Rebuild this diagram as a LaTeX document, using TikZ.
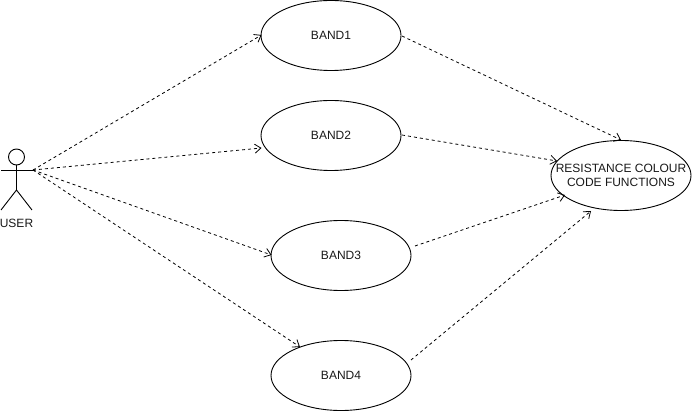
\documentclass[tikz,border=0pt]{standalone}
\usepackage{fontspec}
\setmainfont{Liberation Sans}
\usetikzlibrary{shapes.geometric,arrows.meta}
\newcommand{\lowertext}[1]{\raisebox{-1pt}{#1}}
\tikzset{
  usecase/.style={ellipse,draw=black,line width=0.9pt,minimum width=140pt,minimum height=70pt,inner sep=0pt,align=center,font=\fontsize{12}{15}\selectfont,text=black!90},
  link/.style={draw=black,line width=0.8pt,dash pattern=on 3pt off 3pt,-{Straight Barb[length=6pt,width=9pt]}},
  stick/.style={draw=black,line width=0.9pt},
}
\begin{document}
\begin{tikzpicture}[x=1pt,y=-1pt]
\useasboundingbox (0,0) rectangle (692,411);
\node[usecase] (b1) at (331,35.5) {\lowertext{BAND1}};
\node[usecase] (b2) at (331,135.5) {\lowertext{BAND2}};
\node[usecase] (b3) at (341,255.5) {\lowertext{BAND3}};
\node[usecase] (b4) at (341,375.5) {\lowertext{BAND4}};
\node[usecase,inner xsep=-20pt] (res) at (621,175.5) {\lowertext{RESISTANCE COLOUR}\\[-1pt]\lowertext{CODE FUNCTIONS}};
% actor
\node[circle,stick,minimum size=16pt,inner sep=0pt] (head) at (16.5,157) {};
\coordinate (hip) at (16.5,190);
\coordinate (handL) at (1,170);
\coordinate (hand) at (33,170);
\coordinate (footL) at (1,210);
\coordinate (footR) at (32,210);
\draw[stick] (head.south) -- (hip);
\draw[stick] (handL) -- (hand);
\draw[stick] (footL) -- (hip) -- (footR);
\node[font=\fontsize{12}{14}\selectfont,text=black!90] (user) at (16.5,223.5) {USER};
% connector ends
\coordinate (b1in) at (261.5,35);
\coordinate (b2in) at (261.5,148);
\coordinate (b3in) at (271.5,255);
\coordinate (b4in) at (300,347);
\coordinate (b1out) at (402,36);
\coordinate (b2out) at (402,135);
\coordinate (b3out) at (415,246);
\coordinate (b4out) at (411,360);
\coordinate (r1) at (621,140);
\coordinate (r2) at (557,161);
\coordinate (r3) at (565,195);
\coordinate (r4) at (591,211);
\draw[link] (hand) -- (b1in);
\draw[link] (hand) -- (b2in);
\draw[link] (hand) -- (b3in);
\draw[link] (hand) -- (b4in);
\draw[link] (b1out) -- (r1);
\draw[link] (b2out) -- (r2);
\draw[link] (b3out) -- (r3);
\draw[link] (b4out) -- (r4);
\end{tikzpicture}
\end{document}
